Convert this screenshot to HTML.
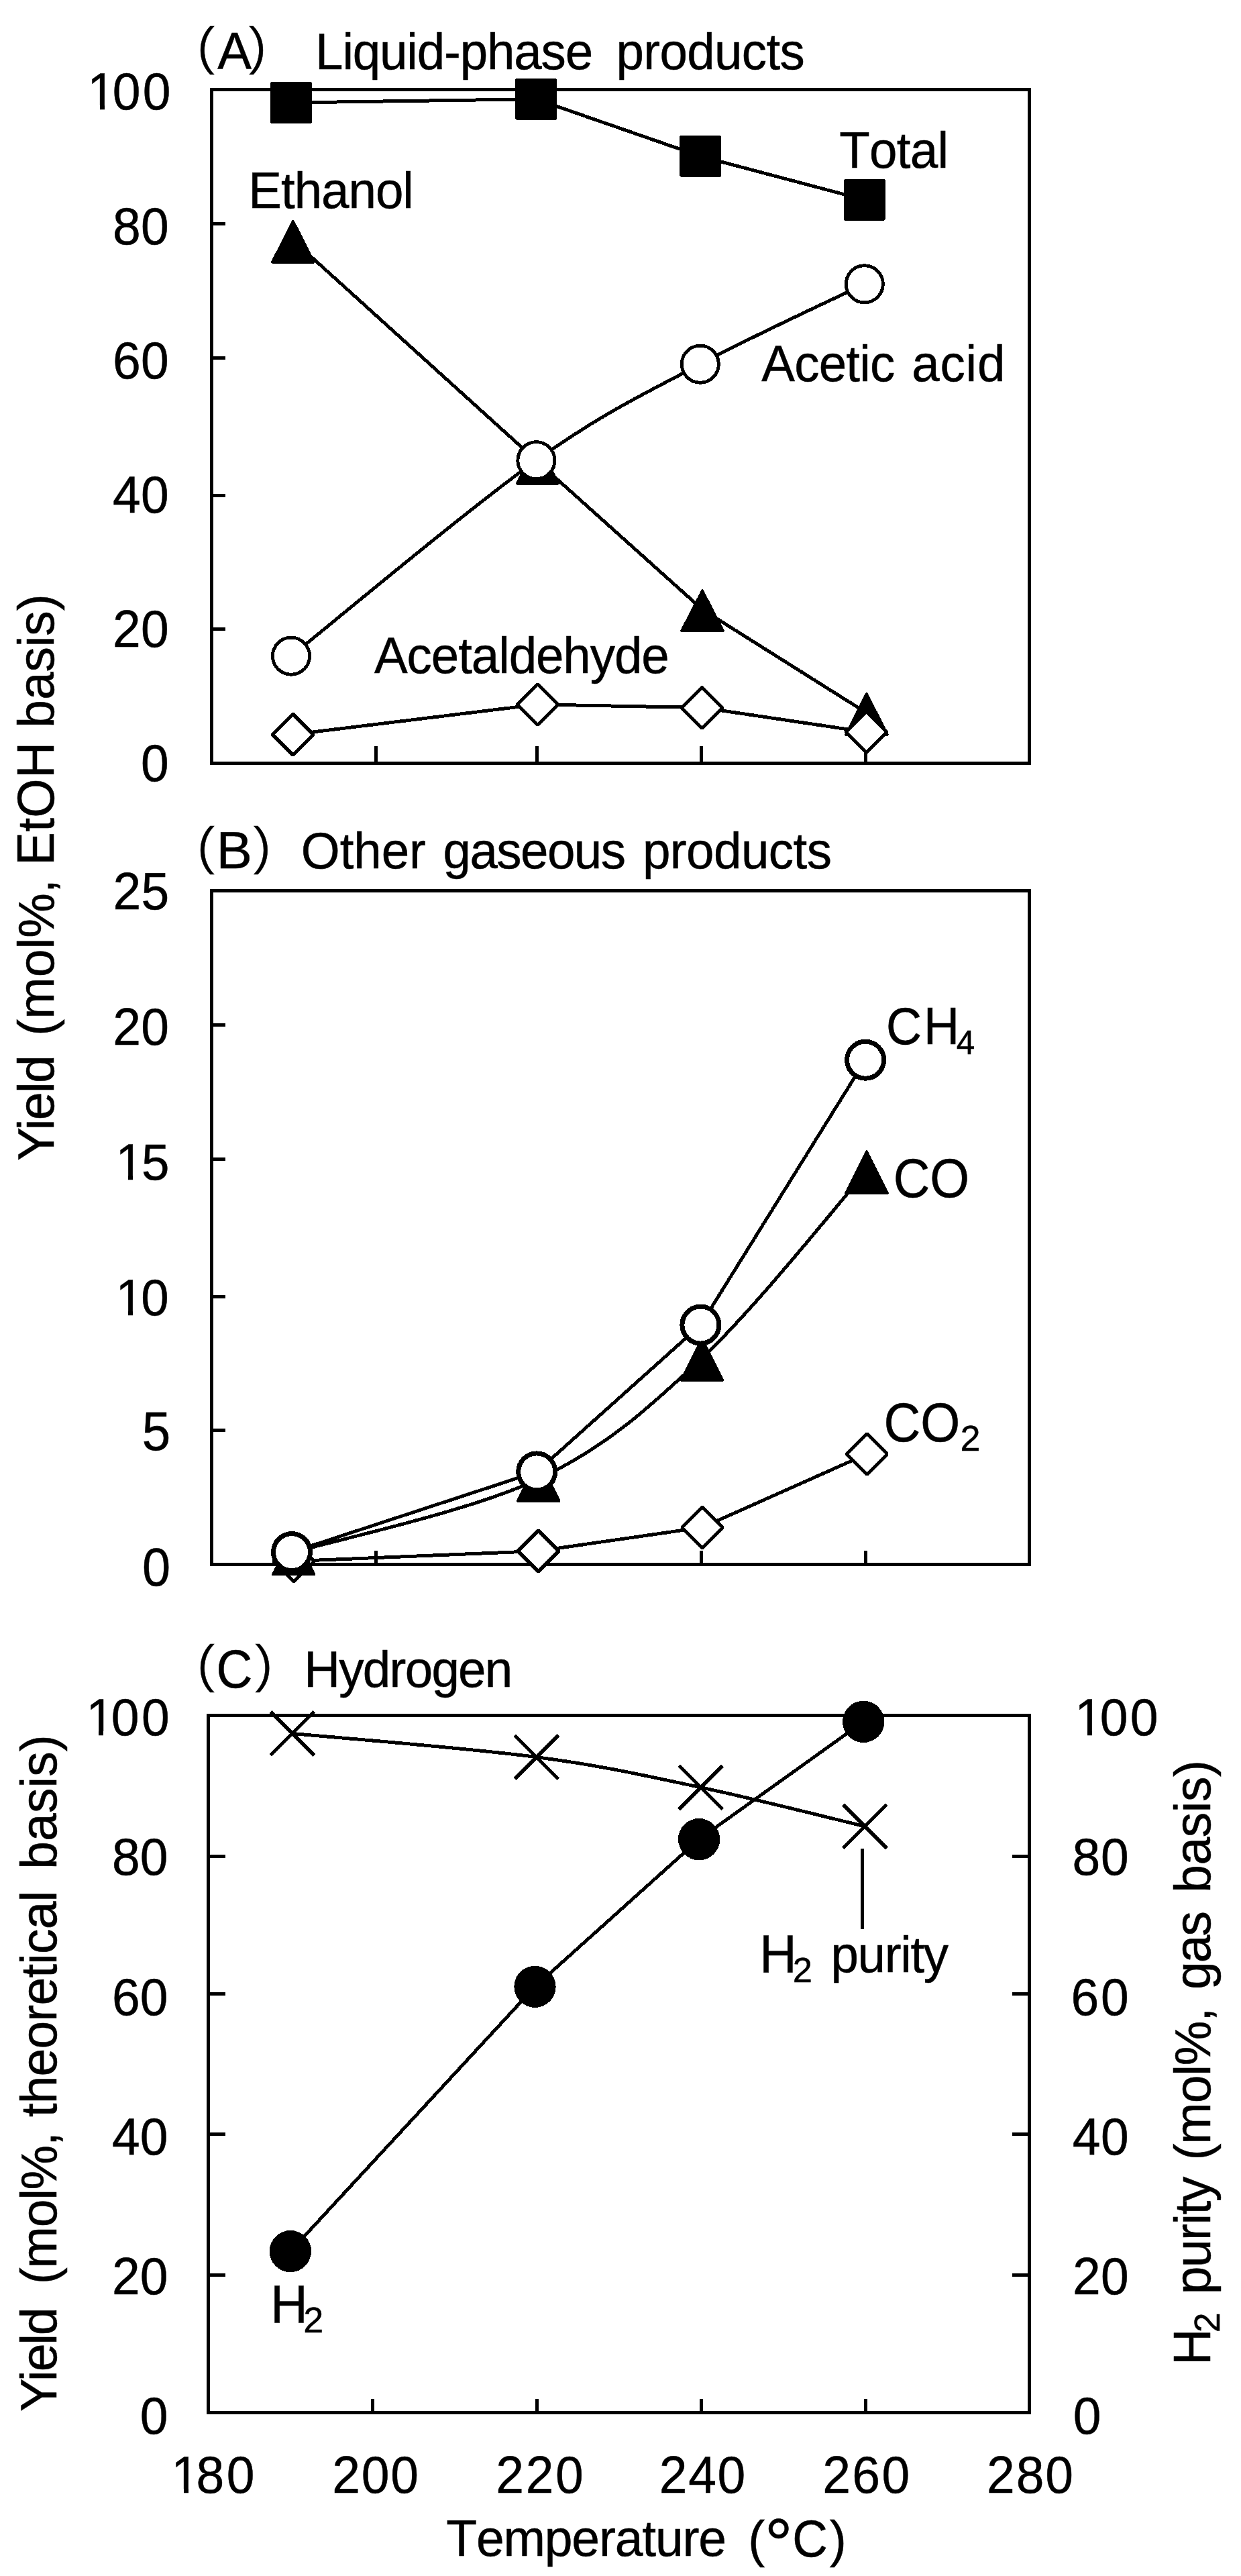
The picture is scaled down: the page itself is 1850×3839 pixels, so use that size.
<!DOCTYPE html>
<html><head><meta charset="utf-8"><title>Figure</title>
<style>
html,body{margin:0;padding:0;background:#fff}
svg{display:block}
text{font-family:"Liberation Sans",sans-serif;fill:#000;stroke:#000;stroke-width:0.5;font-kerning:none;}
</style></head><body>
<svg shape-rendering="crispEdges" width="1850" height="3839" viewBox="0 0 1850 3839">
<rect width="1850" height="3839" fill="#fff"/>
<rect x="315.5" y="133.6" width="1219.40" height="1003.70" fill="none" stroke="#000" stroke-width="5.0"/>
<line x1="315.50" y1="333.10" x2="336.00" y2="333.10" stroke="#000" stroke-width="5.0"/>
<line x1="315.50" y1="533.80" x2="336.00" y2="533.80" stroke="#000" stroke-width="5.0"/>
<line x1="315.50" y1="738.40" x2="336.00" y2="738.40" stroke="#000" stroke-width="5.0"/>
<line x1="315.50" y1="937.50" x2="336.00" y2="937.50" stroke="#000" stroke-width="5.0"/>
<line x1="560.70" y1="1111.80" x2="560.70" y2="1137.30" stroke="#000" stroke-width="5.0"/>
<line x1="800.50" y1="1111.80" x2="800.50" y2="1137.30" stroke="#000" stroke-width="5.0"/>
<line x1="1045.40" y1="1111.80" x2="1045.40" y2="1137.30" stroke="#000" stroke-width="5.0"/>
<line x1="1290.40" y1="1111.80" x2="1290.40" y2="1137.30" stroke="#000" stroke-width="5.0"/>
<text transform="translate(130.33,162.90) scale(1,1.0300)" font-size="75.00" dx="0 -4.27 3.39">100</text>
<rect x="134.54" y="156.93" width="14.35" height="7.27" fill="#fff"/>
<rect x="156.11" y="156.93" width="13.76" height="7.27" fill="#fff"/>
<text transform="translate(168.01,364.10) scale(1,1.0300)" font-size="75.00" letter-spacing="0.300">80</text>
<text transform="translate(168.01,563.80) scale(1,1.0300)" font-size="75.00" letter-spacing="0.300">60</text>
<text transform="translate(168.01,764.20) scale(1,1.0300)" font-size="75.00" letter-spacing="0.300">40</text>
<text transform="translate(168.01,964.30) scale(1,1.0300)" font-size="75.00" letter-spacing="0.300">20</text>
<text transform="translate(210.02,1164.40) scale(1,1.0300)" font-size="75.00">0</text>
<polyline fill="none" stroke="#000" stroke-width="5.0" points="433.9,153.0 799.2,147.7 1044.1,232.8 1288.9,297.8"/>
<polyline fill="none" stroke="#000" stroke-width="5.0" points="436.9,358.2 801.5,688.1 1047.0,908.3 1291.9,1062.5"/>
<path d="M434.0,977.7 C494.9,929.1 697.8,758.7 799.4,686.2 C901.0,613.7 962.2,586.5 1043.8,542.7 C1125.4,498.9 1248.0,443.2 1288.8,423.3" fill="none" stroke="#000" stroke-width="5.0"/>
<polyline fill="none" stroke="#000" stroke-width="5.0" points="436.6,1094.6 801.5,1049.9 1046.5,1054.6 1291.6,1091.0"/>
<rect x="402.9" y="122.0" width="62" height="62" rx="3" fill="#000"/>
<rect x="768.2" y="116.7" width="62" height="62" rx="3" fill="#000"/>
<rect x="1013.1" y="201.8" width="62" height="62" rx="3" fill="#000"/>
<rect x="1257.9" y="266.8" width="62" height="62" rx="3" fill="#000"/>
<polygon points="436.9,329.8 406.1,390.6 467.6,390.6" fill="#000" stroke="#000" stroke-width="4" stroke-linejoin="round"/>
<polygon points="801.5,659.7 770.8,720.5 832.2,720.5" fill="#000" stroke="#000" stroke-width="4" stroke-linejoin="round"/>
<polygon points="1047.0,880.4 1016.2,940.2 1077.8,940.2" fill="#000" stroke="#000" stroke-width="4" stroke-linejoin="round"/>
<polygon points="1291.9,1034.1 1261.2,1094.9 1322.7,1094.9" fill="#000" stroke="#000" stroke-width="4" stroke-linejoin="round"/>
<circle cx="434.0" cy="977.7" r="27.55" fill="#fff" stroke="#000" stroke-width="4.9"/>
<circle cx="799.4" cy="686.2" r="27.55" fill="#fff" stroke="#000" stroke-width="4.9"/>
<circle cx="1043.8" cy="542.7" r="27.55" fill="#fff" stroke="#000" stroke-width="4.9"/>
<circle cx="1288.8" cy="423.3" r="27.55" fill="#fff" stroke="#000" stroke-width="4.9"/>
<polygon points="436.6,1064.1 467.1,1094.6 436.6,1125.1 406.1,1094.6" fill="#fff" stroke="#000" stroke-width="5" stroke-linejoin="bevel"/>
<polygon points="801.5,1019.4 832.0,1049.9 801.5,1080.4 771.0,1049.9" fill="#fff" stroke="#000" stroke-width="5" stroke-linejoin="bevel"/>
<polygon points="1046.5,1024.1 1077.0,1054.6 1046.5,1085.1 1016.0,1054.6" fill="#fff" stroke="#000" stroke-width="5" stroke-linejoin="bevel"/>
<polygon points="1291.6,1060.5 1322.1,1091.0 1291.6,1121.5 1261.1,1091.0" fill="#fff" stroke="#000" stroke-width="5" stroke-linejoin="bevel"/>
<rect x="315.5" y="1327.5" width="1219.40" height="1003.70" fill="none" stroke="#000" stroke-width="5.0"/>
<line x1="315.50" y1="1527.60" x2="336.00" y2="1527.60" stroke="#000" stroke-width="5.0"/>
<line x1="315.50" y1="1727.30" x2="336.00" y2="1727.30" stroke="#000" stroke-width="5.0"/>
<line x1="315.50" y1="1932.40" x2="336.00" y2="1932.40" stroke="#000" stroke-width="5.0"/>
<line x1="315.50" y1="2131.60" x2="336.00" y2="2131.60" stroke="#000" stroke-width="5.0"/>
<line x1="560.70" y1="2310.70" x2="560.70" y2="2331.20" stroke="#000" stroke-width="5.0"/>
<line x1="800.50" y1="2310.70" x2="800.50" y2="2331.20" stroke="#000" stroke-width="5.0"/>
<line x1="1045.20" y1="2310.70" x2="1045.20" y2="2331.20" stroke="#000" stroke-width="5.0"/>
<line x1="1290.30" y1="2310.70" x2="1290.30" y2="2331.20" stroke="#000" stroke-width="5.0"/>
<text transform="translate(168.43,1355.20) scale(1,1.0300)" font-size="75.00" letter-spacing="0.300">25</text>
<text transform="translate(168.21,1556.70) scale(1,1.0300)" font-size="75.00" letter-spacing="0.300">20</text>
<text transform="translate(172.42,1757.90) scale(1,1.0300)" font-size="74.50" dx="0 -2.84">15</text>
<rect x="176.60" y="1751.97" width="14.26" height="7.23" fill="#fff"/>
<rect x="198.04" y="1751.97" width="13.68" height="7.23" fill="#fff"/>
<text transform="translate(172.47,1960.20) scale(1,1.0300)" font-size="74.50" dx="0 -3.72">10</text>
<rect x="176.65" y="1954.27" width="14.26" height="7.23" fill="#fff"/>
<rect x="198.09" y="1954.27" width="13.68" height="7.23" fill="#fff"/>
<text transform="translate(211.84,2161.40) scale(1,1.0600)" font-size="76.35">5</text>
<text transform="translate(211.94,2363.20) scale(1,1.0400)" font-size="75.73">0</text>
<polyline fill="none" stroke="#000" stroke-width="5.0" points="437.9,2326.6 802.5,2311.5 1046.8,2276.3 1292.1,2167.0"/>
<path d="M437.7,2313.6 C498.5,2295.3 701.2,2252.4 802.7,2204.2 C904.2,2155.9 964.9,2100.5 1046.5,2024.0 C1128.1,1947.4 1251.2,1791.5 1292.1,1745.1" fill="none" stroke="#000" stroke-width="5.0"/>
<polyline fill="none" stroke="#000" stroke-width="5.0" points="435.0,2313.1 800.2,2193.4 1044.4,1974.6 1290.1,1579.7"/>
<polygon points="437.9,2296.1 468.4,2326.6 437.9,2357.1 407.4,2326.6" fill="#fff" stroke="#000" stroke-width="5" stroke-linejoin="bevel"/>
<polygon points="802.5,2281.0 833.0,2311.5 802.5,2342.0 772.0,2311.5" fill="#fff" stroke="#000" stroke-width="5" stroke-linejoin="bevel"/>
<polygon points="1046.8,2245.8 1077.3,2276.3 1046.8,2306.8 1016.3,2276.3" fill="#fff" stroke="#000" stroke-width="5" stroke-linejoin="bevel"/>
<polygon points="1292.1,2136.5 1322.6,2167.0 1292.1,2197.5 1261.6,2167.0" fill="#fff" stroke="#000" stroke-width="5" stroke-linejoin="bevel"/>
<polygon points="437.7,2284.8 406.9,2346.3 468.4,2346.3" fill="#000" stroke="#000" stroke-width="4" stroke-linejoin="round"/>
<polygon points="802.7,2175.4 772.0,2236.9 833.5,2236.9" fill="#000" stroke="#000" stroke-width="4" stroke-linejoin="round"/>
<polygon points="1046.5,1995.1 1015.8,2056.8 1077.2,2056.8" fill="#000" stroke="#000" stroke-width="4" stroke-linejoin="round"/>
<polygon points="1292.1,1716.2 1261.3,1777.9 1322.8,1777.9" fill="#000" stroke="#000" stroke-width="4" stroke-linejoin="round"/>
<circle cx="435.0" cy="2313.1" r="27.50" fill="#fff" stroke="#000" stroke-width="7"/>
<circle cx="800.2" cy="2193.4" r="27.50" fill="#fff" stroke="#000" stroke-width="7"/>
<circle cx="1044.4" cy="1974.6" r="27.50" fill="#fff" stroke="#000" stroke-width="7"/>
<circle cx="1290.1" cy="1579.7" r="27.50" fill="#fff" stroke="#000" stroke-width="7"/>
<rect x="310.6" y="2556.0" width="1223.90" height="1039.10" fill="none" stroke="#000" stroke-width="5.0"/>
<line x1="310.60" y1="2766.50" x2="336.00" y2="2766.50" stroke="#000" stroke-width="5.0"/>
<line x1="1508.90" y1="2766.50" x2="1534.50" y2="2766.50" stroke="#000" stroke-width="5.0"/>
<line x1="310.60" y1="2971.50" x2="336.00" y2="2971.50" stroke="#000" stroke-width="5.0"/>
<line x1="1508.90" y1="2971.50" x2="1534.50" y2="2971.50" stroke="#000" stroke-width="5.0"/>
<line x1="310.60" y1="3180.50" x2="336.00" y2="3180.50" stroke="#000" stroke-width="5.0"/>
<line x1="1508.90" y1="3180.50" x2="1534.50" y2="3180.50" stroke="#000" stroke-width="5.0"/>
<line x1="310.60" y1="3390.40" x2="336.00" y2="3390.40" stroke="#000" stroke-width="5.0"/>
<line x1="1508.90" y1="3390.40" x2="1534.50" y2="3390.40" stroke="#000" stroke-width="5.0"/>
<line x1="555.50" y1="3574.60" x2="555.50" y2="3595.10" stroke="#000" stroke-width="5.0"/>
<line x1="800.60" y1="3574.60" x2="800.60" y2="3595.10" stroke="#000" stroke-width="5.0"/>
<line x1="1045.40" y1="3574.60" x2="1045.40" y2="3595.10" stroke="#000" stroke-width="5.0"/>
<line x1="1290.90" y1="3574.60" x2="1290.90" y2="3595.10" stroke="#000" stroke-width="5.0"/>
<text transform="translate(128.38,2586.10) scale(1,1.0300)" font-size="75.00" dx="0 -4.22 3.39">100</text>
<rect x="132.59" y="2580.13" width="14.35" height="7.27" fill="#fff"/>
<rect x="154.16" y="2580.13" width="13.76" height="7.27" fill="#fff"/>
<text transform="translate(167.01,2794.40) scale(1,1.0300)" font-size="75.00">80</text>
<text transform="translate(167.01,3002.60) scale(1,1.0300)" font-size="75.00">60</text>
<text transform="translate(167.01,3210.90) scale(1,1.0300)" font-size="75.00">40</text>
<text transform="translate(167.01,3419.10) scale(1,1.0300)" font-size="75.00">20</text>
<text transform="translate(208.72,3627.40) scale(1,1.0300)" font-size="75.00">0</text>
<text transform="translate(1602.33,2586.10) scale(1,1.0300)" font-size="75.00" dx="0 -4.27 3.39">100</text>
<rect x="1606.54" y="2580.13" width="14.35" height="7.27" fill="#fff"/>
<rect x="1628.11" y="2580.13" width="13.76" height="7.27" fill="#fff"/>
<text transform="translate(1598.54,2794.40) scale(1,1.0300)" font-size="75.00" letter-spacing="0.866">80</text>
<text transform="translate(1596.59,3002.60) scale(1,1.0300)" font-size="75.00" letter-spacing="2.815">60</text>
<text transform="translate(1598.68,3210.90) scale(1,1.0300)" font-size="75.00" letter-spacing="0.728">40</text>
<text transform="translate(1598.93,3419.10) scale(1,1.0300)" font-size="75.00" letter-spacing="0.479">20</text>
<text transform="translate(1599.77,3627.40) scale(1,1.0300)" font-size="75.00">0</text>
<path d="M435.8,2583.4 C496.5,2589.3 698.4,2605.2 799.9,2618.6 C901.4,2632.0 963.1,2646.6 1044.7,2663.8 C1126.3,2681.0 1248.6,2712.2 1289.4,2721.9" fill="none" stroke="#000" stroke-width="5.0"/>
<polyline fill="none" stroke="#000" stroke-width="5.0" points="432.9,3355.1 797.5,2960.8 1042.1,2741.1 1287.2,2565.9"/>
<path d="M403.3,2550.9L468.3,2615.9M403.3,2615.9L468.3,2550.9" stroke="#000" stroke-width="5.2" fill="none"/>
<path d="M767.4,2586.1L832.4,2651.1M767.4,2651.1L832.4,2586.1" stroke="#000" stroke-width="5.2" fill="none"/>
<path d="M1012.2,2631.3L1077.2,2696.3M1012.2,2696.3L1077.2,2631.3" stroke="#000" stroke-width="5.2" fill="none"/>
<path d="M1256.9,2689.4L1321.9,2754.4M1256.9,2754.4L1321.9,2689.4" stroke="#000" stroke-width="5.2" fill="none"/>
<circle cx="432.9" cy="3355.1" r="31.15" fill="#000"/>
<circle cx="797.5" cy="2960.8" r="31.15" fill="#000"/>
<circle cx="1042.1" cy="2741.1" r="31.15" fill="#000"/>
<circle cx="1287.2" cy="2565.9" r="31.15" fill="#000"/>
<line x1="1285.70" y1="2755.40" x2="1285.70" y2="2874.80" stroke="#000" stroke-width="5.2"/>
<text transform="translate(255.33,3715.20) scale(1,1.0300)" font-size="75.00" dx="0 -4.60 3.72">180</text>
<rect x="259.54" y="3709.23" width="14.35" height="7.27" fill="#fff"/>
<rect x="281.11" y="3709.23" width="13.76" height="7.27" fill="#fff"/>
<text transform="translate(495.33,3714.70) scale(1,1.0300)" font-size="75.00" letter-spacing="1.734">200</text>
<text transform="translate(739.33,3714.70) scale(1,1.0300)" font-size="75.00" letter-spacing="2.684">220</text>
<text transform="translate(982.83,3714.70) scale(1,1.0300)" font-size="75.00" letter-spacing="1.634">240</text>
<text transform="translate(1226.33,3714.70) scale(1,1.0300)" font-size="75.00" letter-spacing="2.334">260</text>
<text transform="translate(1471.03,3714.70) scale(1,1.0300)" font-size="75.00" letter-spacing="1.934">280</text>
<text transform="translate(249.7,105.3) scale(1,1.07)" font-size="75" style="font-family:IPAGothic,'Noto Sans CJK JP',sans-serif">（</text>
<text transform="translate(324.15,103.40) scale(1,1.0173)" font-size="76.01">A</text>
<text transform="translate(366.0,105.3) scale(1,1.07)" font-size="75" style="font-family:IPAGothic,'Noto Sans CJK JP',sans-serif">）</text>
<text transform="translate(470.09,103.40) scale(1,1.0200)" font-size="74.50" letter-spacing="-1.137">Liquid-phase</text>
<text transform="translate(918.40,103.40) scale(1,1.0200)" font-size="74.50" letter-spacing="-0.621">products</text>
<text transform="translate(249.7,1296.5) scale(1,1.07)" font-size="75" style="font-family:IPAGothic,'Noto Sans CJK JP',sans-serif">（</text>
<text transform="translate(322.62,1294.40) scale(1,0.9638)" font-size="80.23">B</text>
<text transform="translate(372.8,1296.5) scale(1,1.07)" font-size="75" style="font-family:IPAGothic,'Noto Sans CJK JP',sans-serif">）</text>
<text transform="translate(448.87,1294.40) scale(1,1.0200)" font-size="74.50" letter-spacing="-0.064">Other</text>
<text transform="translate(660.47,1294.40) scale(1,1.0200)" font-size="74.50" letter-spacing="-1.508">gaseous</text>
<text transform="translate(957.90,1294.40) scale(1,1.0200)" font-size="74.50" letter-spacing="-0.507">products</text>
<text transform="translate(249.7,2516.2) scale(1,1.07)" font-size="75" style="font-family:IPAGothic,'Noto Sans CJK JP',sans-serif">（</text>
<text transform="translate(322.52,2514.80) scale(1,1.0600)" font-size="74.53">C</text>
<text transform="translate(375.3,2516.2) scale(1,1.07)" font-size="75" style="font-family:IPAGothic,'Noto Sans CJK JP',sans-serif">）</text>
<text transform="translate(453.19,2514.40) scale(1,1.0200)" font-size="74.50" letter-spacing="-1.697">Hydrogen</text>
<text transform="translate(370.29,309.70) scale(1,1.0200)" font-size="74.50" letter-spacing="-1.013">Ethanol</text>
<text transform="translate(1251.23,249.90) scale(1,1.0200)" font-size="74.50" letter-spacing="-0.667">Total</text>
<text transform="translate(1135.35,567.90) scale(1,1.0200)" font-size="74.50" letter-spacing="-0.813">Acetic</text>
<text transform="translate(1359.24,567.90) scale(1,1.0200)" font-size="74.50" letter-spacing="0.833">acid</text>
<text transform="translate(557.95,1002.60) scale(1,1.0200)" font-size="74.50" letter-spacing="-1.056">Acetaldehyde</text>
<text transform="translate(1331.76,1783.50) scale(1,1.0750)" font-size="75.57">CO</text>
<text transform="translate(1321.07,1556.00) scale(1,1.0600)" font-size="73.50" letter-spacing="2.867">CH</text>
<text transform="translate(1425.87,1571.00) scale(1,1.0000)" font-size="49.41">4</text>
<text transform="translate(1317.55,2147.60) scale(1,1.0750)" font-size="75.85">CO</text>
<text transform="translate(1431.58,2161.70) scale(1,1.0000)" font-size="54.00">2</text>
<text transform="translate(403.30,3460.90) scale(1,1.0300)" font-size="76.80">H</text>
<text transform="translate(452.28,3476.00) scale(1,1.0000)" font-size="54.00">2</text>
<text transform="translate(1132.31,2938.50) scale(1,1.0300)" font-size="76.62">H</text>
<text transform="translate(1181.86,2954.00) scale(1,1.0000)" font-size="52.46">2</text>
<text transform="translate(1238.50,2938.50) scale(1,1.0200)" font-size="74.50" letter-spacing="-1.306">purity</text>
<text transform="translate(665.32,3809.30) scale(1,1.0200)" font-size="75.00" letter-spacing="-1.163">Temperature</text>
<text transform="translate(1115.25,3809.60) scale(1,1.0200)" font-size="75.00">(</text>
<text transform="translate(1139.75,3827.20) scale(1,1.0000)" font-size="104.90">°</text>
<text transform="translate(1181.20,3810.30) scale(1,1.0750)" font-size="72.79">C</text>
<text transform="translate(1236.66,3809.60) scale(1,1.0200)" font-size="75.00">)</text>
<text transform="translate(79.80,1730.05) rotate(-90) scale(1,1.0200)" font-size="75.00" letter-spacing="-1.532" dx="0 -2.76">Yield</text>
<text transform="translate(79.80,1543.75) rotate(-90) scale(1,1.0200)" font-size="75.00" letter-spacing="0.068">(mol%,</text>
<text transform="translate(79.80,1290.05) rotate(-90) scale(1,1.0300)" font-size="75.00" letter-spacing="0.269">EtOH</text>
<text transform="translate(79.80,1084.63) rotate(-90) scale(1,1.0200)" font-size="75.00" letter-spacing="-0.155">basis)</text>
<text transform="translate(84.20,3594.35) rotate(-90) scale(1,1.0200)" font-size="75.00" letter-spacing="-2.099" dx="0 -2.49">Yield</text>
<text transform="translate(84.20,3404.15) rotate(-90) scale(1,1.0200)" font-size="75.00" letter-spacing="-1.292">(mol%,</text>
<text transform="translate(84.20,3155.24) rotate(-90) scale(1,1.0200)" font-size="75.00" letter-spacing="-0.858">theoretical</text>
<text transform="translate(84.20,2785.73) rotate(-90) scale(1,1.0200)" font-size="75.00" letter-spacing="0.105">basis)</text>
<text transform="translate(1803.60,3524.97) rotate(-90) scale(1,1.0300)" font-size="75.19">H</text>
<text transform="translate(1817.90,3476.30) rotate(-90) scale(1,1.0000)" font-size="53.78">2</text>
<text transform="translate(1803.60,3419.13) rotate(-90) scale(1,1.0200)" font-size="75.00" letter-spacing="-1.584">purity</text>
<text transform="translate(1803.60,3219.45) rotate(-90) scale(1,1.0200)" font-size="75.00" letter-spacing="-1.152">(mol%,</text>
<text transform="translate(1803.60,2965.05) rotate(-90) scale(1,1.0200)" font-size="75.00" letter-spacing="-1.932">gas</text>
<text transform="translate(1803.60,2820.83) rotate(-90) scale(1,1.0200)" font-size="75.00" letter-spacing="-0.435">basis)</text>
</svg>
</body></html>
